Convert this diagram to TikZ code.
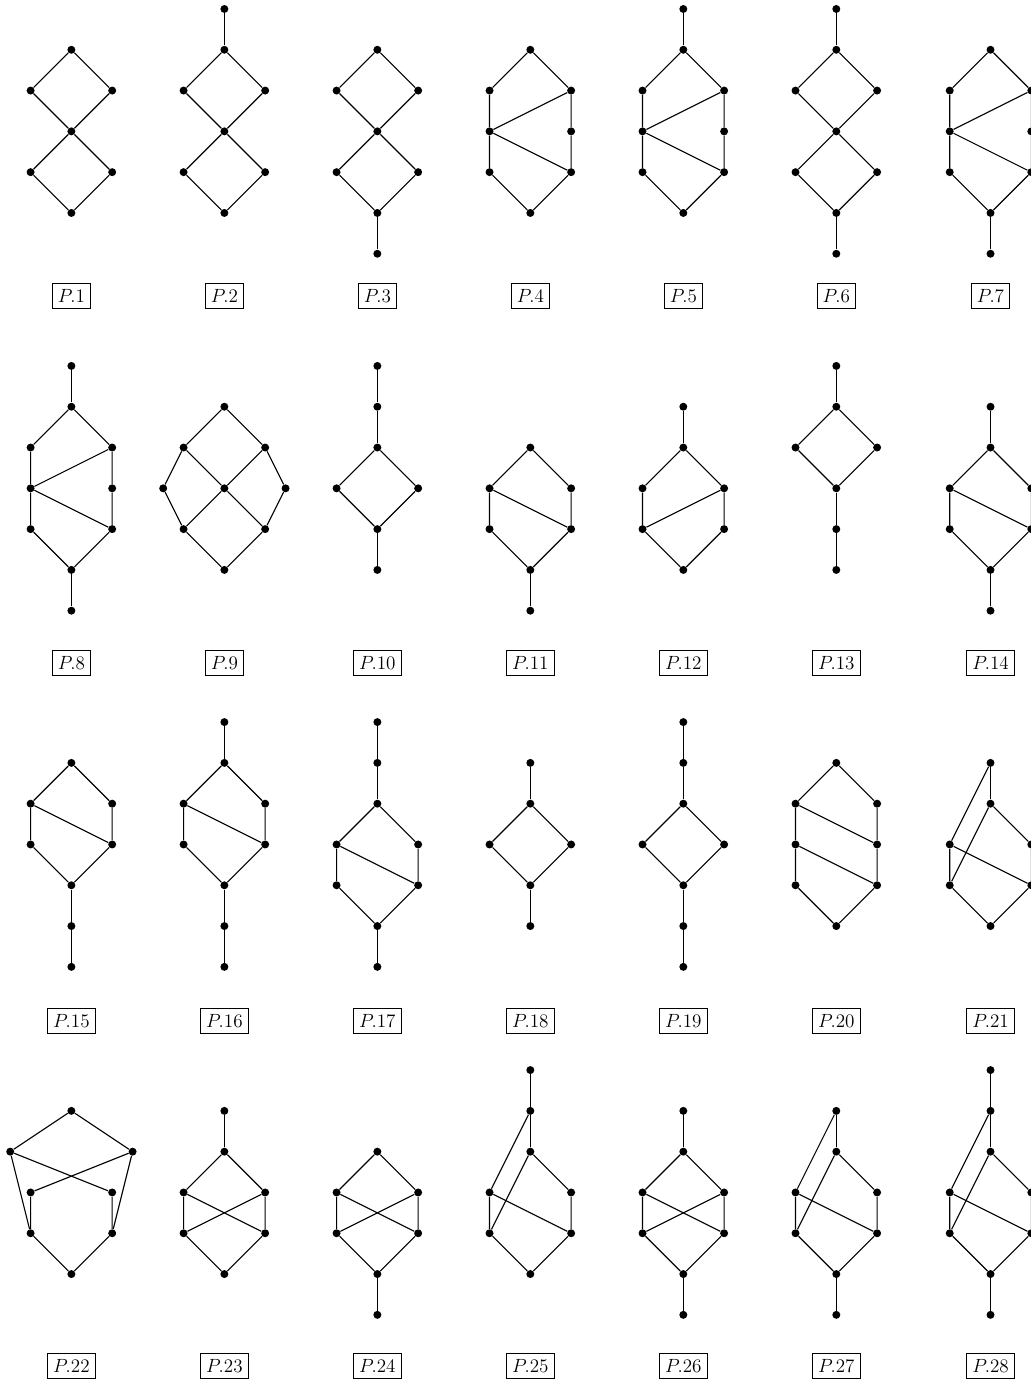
\documentclass[tikz,border=0pt]{standalone}
\usepackage{amsmath}
\usepackage{tikz}
\tikzset{
  dot/.style={circle, fill=black, inner sep=0pt, minimum size=5pt},
  edge/.style={line width=0.7pt, color=black},
  tag/.style={rectangle, draw=black, line width=0.5pt, inner sep=3.6pt, font=\large}
}
\newcommand{\vtx}[2]{\node[dot] (#1) at (#2) {};}

\begin{document}
\begin{tikzpicture}[x=0.9cm, y=0.9cm]
  \useasboundingbox (0,0) rectangle (25.27,-33.95);

  %% ---------- Row 1 ----------
  % P.1
  \begin{scope}[shift={(1.75,-0.22)}, name prefix=p1-]
    \vtx{c1}{0,-1} \vtx{l2}{-1,-2} \vtx{r2}{1,-2} \vtx{c3}{0,-3}
    \vtx{l4}{-1,-4} \vtx{r4}{1,-4} \vtx{c5}{0,-5}
    \draw[edge] (c1) -- (l2) -- (c3) -- (r2) -- (c1);
    \draw[edge] (c3) -- (l4) -- (c5) -- (r4) -- (c3);
    \node[tag] (lab) at (0,-7.03) {$P.1$};
  \end{scope}

  % P.2
  \begin{scope}[shift={(5.5,-0.22)}, name prefix=p2-]
    \vtx{c0}{0,0} \vtx{c1}{0,-1} \vtx{l2}{-1,-2} \vtx{r2}{1,-2} \vtx{c3}{0,-3}
    \vtx{l4}{-1,-4} \vtx{r4}{1,-4} \vtx{c5}{0,-5}
    \draw[edge] (c0) -- (c1);
    \draw[edge] (c1) -- (l2) -- (c3) -- (r2) -- (c1);
    \draw[edge] (c3) -- (l4) -- (c5) -- (r4) -- (c3);
    \node[tag] (lab) at (0,-7.03) {$P.2$};
  \end{scope}

  % P.3
  \begin{scope}[shift={(9.25,-0.22)}, name prefix=p3-]
    \vtx{c1}{0,-1} \vtx{l2}{-1,-2} \vtx{r2}{1,-2} \vtx{c3}{0,-3}
    \vtx{l4}{-1,-4} \vtx{r4}{1,-4} \vtx{c5}{0,-5} \vtx{c6}{0,-6}
    \draw[edge] (c1) -- (l2) -- (c3) -- (r2) -- (c1);
    \draw[edge] (c3) -- (l4) -- (c5) -- (r4) -- (c3);
    \draw[edge] (c5) -- (c6);
    \node[tag] (lab) at (0,-7.03) {$P.3$};
  \end{scope}

  % P.4
  \begin{scope}[shift={(13,-0.22)}, name prefix=p4-]
    \vtx{c1}{0,-1} \vtx{l2}{-1,-2} \vtx{r2}{1,-2} \vtx{l3}{-1,-3} \vtx{r3}{1,-3}
    \vtx{l4}{-1,-4} \vtx{r4}{1,-4} \vtx{c5}{0,-5}
    \draw[edge] (c1) -- (l2) -- (l3) -- (l4) -- (c5) -- (r4) -- (r3) -- (r2) -- (c1);
    \draw[edge] (r2) -- (l3) -- (r4);
    \node[tag] (lab) at (0,-7.03) {$P.4$};
  \end{scope}

  % P.5
  \begin{scope}[shift={(16.75,-0.22)}, name prefix=p5-]
    \vtx{c0}{0,0} \vtx{c1}{0,-1} \vtx{l2}{-1,-2} \vtx{r2}{1,-2} \vtx{l3}{-1,-3} \vtx{r3}{1,-3}
    \vtx{l4}{-1,-4} \vtx{r4}{1,-4} \vtx{c5}{0,-5}
    \draw[edge] (c0) -- (c1);
    \draw[edge] (c1) -- (l2) -- (l3) -- (l4) -- (c5) -- (r4) -- (r3) -- (r2) -- (c1);
    \draw[edge] (r2) -- (l3) -- (r4);
    \node[tag] (lab) at (0,-7.03) {$P.5$};
  \end{scope}

  % P.6
  \begin{scope}[shift={(20.5,-0.22)}, name prefix=p6-]
    \vtx{c0}{0,0} \vtx{c1}{0,-1} \vtx{l2}{-1,-2} \vtx{r2}{1,-2} \vtx{c3}{0,-3}
    \vtx{l4}{-1,-4} \vtx{r4}{1,-4} \vtx{c5}{0,-5} \vtx{c6}{0,-6}
    \draw[edge] (c0) -- (c1);
    \draw[edge] (c1) -- (l2) -- (c3) -- (r2) -- (c1);
    \draw[edge] (c3) -- (l4) -- (c5) -- (r4) -- (c3);
    \draw[edge] (c5) -- (c6);
    \node[tag] (lab) at (0,-7.03) {$P.6$};
  \end{scope}

  % P.7
  \begin{scope}[shift={(24.28,-0.22)}, name prefix=p7-]
    \vtx{c1}{0,-1} \vtx{l2}{-1,-2} \vtx{r2}{1,-2} \vtx{l3}{-1,-3} \vtx{r3}{1,-3}
    \vtx{l4}{-1,-4} \vtx{r4}{1,-4} \vtx{c5}{0,-5} \vtx{c6}{0,-6}
    \draw[edge] (c1) -- (l2) -- (l3) -- (l4) -- (c5) -- (r4) -- (r3) -- (r2) -- (c1);
    \draw[edge] (r2) -- (l3) -- (r4);
    \draw[edge] (c5) -- (c6);
    \node[tag] (lab) at (0,-7.03) {$P.7$};
  \end{scope}

  %% ---------- Row 2 ----------
  % P.8
  \begin{scope}[shift={(1.75,-8.97)}, name prefix=p8-]
    \vtx{c0}{0,0} \vtx{c1}{0,-1} \vtx{l2}{-1,-2} \vtx{r2}{1,-2} \vtx{l3}{-1,-3} \vtx{r3}{1,-3}
    \vtx{l4}{-1,-4} \vtx{r4}{1,-4} \vtx{c5}{0,-5} \vtx{c6}{0,-6}
    \draw[edge] (c0) -- (c1);
    \draw[edge] (c1) -- (l2) -- (l3) -- (l4) -- (c5) -- (r4) -- (r3) -- (r2) -- (c1);
    \draw[edge] (r2) -- (l3) -- (r4);
    \draw[edge] (c5) -- (c6);
    \node[tag] (lab) at (0,-7.28) {$P.8$};
  \end{scope}

  % P.9
  \begin{scope}[shift={(5.5,-8.97)}, name prefix=p9-]
    \vtx{c1}{0,-1} \vtx{l2}{-1,-2} \vtx{r2}{1,-2}
    \vtx{L3}{-1.5,-3} \vtx{c3}{0,-3} \vtx{R3}{1.5,-3}
    \vtx{l4}{-1,-4} \vtx{r4}{1,-4} \vtx{c5}{0,-5}
    \draw[edge] (c1) -- (l2) -- (L3) -- (l4) -- (c5) -- (r4) -- (R3) -- (r2) -- (c1);
    \draw[edge] (l2) -- (c3) -- (r4);
    \draw[edge] (r2) -- (c3) -- (l4);
    \node[tag] (lab) at (0,-7.28) {$P.9$};
  \end{scope}

  % P.10
  \begin{scope}[shift={(9.25,-8.97)}, name prefix=p10-]
    \vtx{c0}{0,0} \vtx{c1}{0,-1} \vtx{c2}{0,-2} \vtx{l3}{-1,-3} \vtx{r3}{1,-3}
    \vtx{c4}{0,-4} \vtx{c5}{0,-5}
    \draw[edge] (c0) -- (c1) -- (c2);
    \draw[edge] (c2) -- (l3) -- (c4) -- (r3) -- (c2);
    \draw[edge] (c4) -- (c5);
    \node[tag] (lab) at (0,-7.28) {$P.10$};
  \end{scope}

  % P.11
  \begin{scope}[shift={(13,-8.97)}, name prefix=p11-]
    \vtx{c2}{0,-2} \vtx{l3}{-1,-3} \vtx{r3}{1,-3} \vtx{l4}{-1,-4} \vtx{r4}{1,-4}
    \vtx{c5}{0,-5} \vtx{c6}{0,-6}
    \draw[edge] (c2) -- (l3) -- (l4) -- (c5) -- (r4) -- (r3) -- (c2);
    \draw[edge] (l3) -- (r4);
    \draw[edge] (c5) -- (c6);
    \node[tag] (lab) at (0,-7.28) {$P.11$};
  \end{scope}

  % P.12
  \begin{scope}[shift={(16.75,-8.97)}, name prefix=p12-]
    \vtx{c1}{0,-1} \vtx{c2}{0,-2} \vtx{l3}{-1,-3} \vtx{r3}{1,-3}
    \vtx{l4}{-1,-4} \vtx{r4}{1,-4} \vtx{c5}{0,-5}
    \draw[edge] (c1) -- (c2);
    \draw[edge] (c2) -- (l3) -- (l4) -- (c5) -- (r4) -- (r3) -- (c2);
    \draw[edge] (l4) -- (r3);
    \node[tag] (lab) at (0,-7.28) {$P.12$};
  \end{scope}

  % P.13
  \begin{scope}[shift={(20.5,-8.97)}, name prefix=p13-]
    \vtx{c0}{0,0} \vtx{c1}{0,-1} \vtx{l2}{-1,-2} \vtx{r2}{1,-2}
    \vtx{c3}{0,-3} \vtx{c4}{0,-4} \vtx{c5}{0,-5}
    \draw[edge] (c0) -- (c1);
    \draw[edge] (c1) -- (l2) -- (c3) -- (r2) -- (c1);
    \draw[edge] (c3) -- (c4) -- (c5);
    \node[tag] (lab) at (0,-7.28) {$P.13$};
  \end{scope}

  % P.14
  \begin{scope}[shift={(24.28,-8.97)}, name prefix=p14-]
    \vtx{c1}{0,-1} \vtx{c2}{0,-2} \vtx{l3}{-1,-3} \vtx{r3}{1,-3}
    \vtx{l4}{-1,-4} \vtx{r4}{1,-4} \vtx{c5}{0,-5} \vtx{c6}{0,-6}
    \draw[edge] (c1) -- (c2);
    \draw[edge] (c2) -- (l3) -- (l4) -- (c5) -- (r4) -- (r3) -- (c2);
    \draw[edge] (l3) -- (r4);
    \draw[edge] (c5) -- (c6);
    \node[tag] (lab) at (0,-7.28) {$P.14$};
  \end{scope}

  %% ---------- Row 3 ----------
  % P.15
  \begin{scope}[shift={(1.75,-17.7)}, name prefix=p15-]
    \vtx{c1}{0,-1} \vtx{l2}{-1,-2} \vtx{r2}{1,-2} \vtx{l3}{-1,-3} \vtx{r3}{1,-3}
    \vtx{c4}{0,-4} \vtx{c5}{0,-5} \vtx{c6}{0,-6}
    \draw[edge] (c1) -- (l2) -- (l3) -- (c4) -- (r3) -- (r2) -- (c1);
    \draw[edge] (l2) -- (r3);
    \draw[edge] (c4) -- (c5) -- (c6);
    \node[tag] (lab) at (0,-7.32) {$P.15$};
  \end{scope}

  % P.16
  \begin{scope}[shift={(5.5,-17.7)}, name prefix=p16-]
    \vtx{c0}{0,0} \vtx{c1}{0,-1} \vtx{l2}{-1,-2} \vtx{r2}{1,-2} \vtx{l3}{-1,-3} \vtx{r3}{1,-3}
    \vtx{c4}{0,-4} \vtx{c5}{0,-5} \vtx{c6}{0,-6}
    \draw[edge] (c0) -- (c1);
    \draw[edge] (c1) -- (l2) -- (l3) -- (c4) -- (r3) -- (r2) -- (c1);
    \draw[edge] (l2) -- (r3);
    \draw[edge] (c4) -- (c5) -- (c6);
    \node[tag] (lab) at (0,-7.32) {$P.16$};
  \end{scope}

  % P.17
  \begin{scope}[shift={(9.25,-17.7)}, name prefix=p17-]
    \vtx{c0}{0,0} \vtx{c1}{0,-1} \vtx{c2}{0,-2} \vtx{l3}{-1,-3} \vtx{r3}{1,-3}
    \vtx{l4}{-1,-4} \vtx{r4}{1,-4} \vtx{c5}{0,-5} \vtx{c6}{0,-6}
    \draw[edge] (c0) -- (c1) -- (c2);
    \draw[edge] (c2) -- (l3) -- (l4) -- (c5) -- (r4) -- (r3) -- (c2);
    \draw[edge] (l3) -- (r4);
    \draw[edge] (c5) -- (c6);
    \node[tag] (lab) at (0,-7.32) {$P.17$};
  \end{scope}

  % P.18
  \begin{scope}[shift={(13,-17.7)}, name prefix=p18-]
    \vtx{c1}{0,-1} \vtx{c2}{0,-2} \vtx{l3}{-1,-3} \vtx{r3}{1,-3}
    \vtx{c4}{0,-4} \vtx{c5}{0,-5}
    \draw[edge] (c1) -- (c2);
    \draw[edge] (c2) -- (l3) -- (c4) -- (r3) -- (c2);
    \draw[edge] (c4) -- (c5);
    \node[tag] (lab) at (0,-7.32) {$P.18$};
  \end{scope}

  % P.19
  \begin{scope}[shift={(16.75,-17.7)}, name prefix=p19-]
    \vtx{c0}{0,0} \vtx{c1}{0,-1} \vtx{c2}{0,-2} \vtx{l3}{-1,-3} \vtx{r3}{1,-3}
    \vtx{c4}{0,-4} \vtx{c5}{0,-5} \vtx{c6}{0,-6}
    \draw[edge] (c0) -- (c1) -- (c2);
    \draw[edge] (c2) -- (l3) -- (c4) -- (r3) -- (c2);
    \draw[edge] (c4) -- (c5) -- (c6);
    \node[tag] (lab) at (0,-7.32) {$P.19$};
  \end{scope}

  % P.20
  \begin{scope}[shift={(20.5,-17.7)}, name prefix=p20-]
    \vtx{c1}{0,-1} \vtx{l2}{-1,-2} \vtx{r2}{1,-2} \vtx{l3}{-1,-3} \vtx{r3}{1,-3}
    \vtx{l4}{-1,-4} \vtx{r4}{1,-4} \vtx{c5}{0,-5}
    \draw[edge] (c1) -- (l2) -- (l3) -- (l4) -- (c5) -- (r4) -- (r3) -- (r2) -- (c1);
    \draw[edge] (l2) -- (r3);
    \draw[edge] (l3) -- (r4);
    \node[tag] (lab) at (0,-7.32) {$P.20$};
  \end{scope}

  % P.21
  \begin{scope}[shift={(24.28,-17.7)}, name prefix=p21-]
    \vtx{c1}{0,-1} \vtx{c2}{0,-2} \vtx{l3}{-1,-3} \vtx{r3}{1,-3}
    \vtx{l4}{-1,-4} \vtx{r4}{1,-4} \vtx{c5}{0,-5}
    \draw[edge] (c1) -- (c2);
    \draw[edge] (c1) -- (l3) -- (l4) -- (c5) -- (r4) -- (r3) -- (c2) -- (l4);
    \draw[edge] (l3) -- (r4);
    \node[tag] (lab) at (0,-7.32) {$P.21$};
  \end{scope}

  %% ---------- Row 4 ----------
  % P.22
  \begin{scope}[shift={(1.75,-26.23)}, name prefix=p22-]
    \vtx{c1}{0,-1} \vtx{L2}{-1.5,-2} \vtx{R2}{1.5,-2}
    \vtx{l3}{-1,-3} \vtx{r3}{1,-3} \vtx{l4}{-1,-4} \vtx{r4}{1,-4} \vtx{c5}{0,-5}
    \draw[edge] (c1) -- (L2) -- (l4) -- (c5) -- (r4) -- (R2) -- (c1);
    \draw[edge] (L2) -- (r3) -- (r4);
    \draw[edge] (R2) -- (l3) -- (l4);
    \node[tag] (lab) at (0,-7.25) {$P.22$};
  \end{scope}

  % P.23
  \begin{scope}[shift={(5.5,-26.23)}, name prefix=p23-]
    \vtx{c1}{0,-1} \vtx{c2}{0,-2} \vtx{l3}{-1,-3} \vtx{r3}{1,-3}
    \vtx{l4}{-1,-4} \vtx{r4}{1,-4} \vtx{c5}{0,-5}
    \draw[edge] (c1) -- (c2);
    \draw[edge] (c2) -- (l3) -- (l4) -- (c5) -- (r4) -- (r3) -- (c2);
    \draw[edge] (l3) -- (r4);
    \draw[edge] (r3) -- (l4);
    \node[tag] (lab) at (0,-7.25) {$P.23$};
  \end{scope}

  % P.24
  \begin{scope}[shift={(9.25,-26.23)}, name prefix=p24-]
    \vtx{c2}{0,-2} \vtx{l3}{-1,-3} \vtx{r3}{1,-3}
    \vtx{l4}{-1,-4} \vtx{r4}{1,-4} \vtx{c5}{0,-5} \vtx{c6}{0,-6}
    \draw[edge] (c2) -- (l3) -- (l4) -- (c5) -- (r4) -- (r3) -- (c2);
    \draw[edge] (l3) -- (r4);
    \draw[edge] (r3) -- (l4);
    \draw[edge] (c5) -- (c6);
    \node[tag] (lab) at (0,-7.25) {$P.24$};
  \end{scope}

  % P.25
  \begin{scope}[shift={(13,-26.23)}, name prefix=p25-]
    \vtx{c0}{0,0} \vtx{c1}{0,-1} \vtx{c2}{0,-2} \vtx{l3}{-1,-3} \vtx{r3}{1,-3}
    \vtx{l4}{-1,-4} \vtx{r4}{1,-4} \vtx{c5}{0,-5}
    \draw[edge] (c0) -- (c1) -- (c2);
    \draw[edge] (c1) -- (l3) -- (l4) -- (c5) -- (r4) -- (r3) -- (c2) -- (l4);
    \draw[edge] (l3) -- (r4);
    \node[tag] (lab) at (0,-7.25) {$P.25$};
  \end{scope}

  % P.26
  \begin{scope}[shift={(16.75,-26.23)}, name prefix=p26-]
    \vtx{c1}{0,-1} \vtx{c2}{0,-2} \vtx{l3}{-1,-3} \vtx{r3}{1,-3}
    \vtx{l4}{-1,-4} \vtx{r4}{1,-4} \vtx{c5}{0,-5} \vtx{c6}{0,-6}
    \draw[edge] (c1) -- (c2);
    \draw[edge] (c2) -- (l3) -- (l4) -- (c5) -- (r4) -- (r3) -- (c2);
    \draw[edge] (l3) -- (r4);
    \draw[edge] (r3) -- (l4);
    \draw[edge] (c5) -- (c6);
    \node[tag] (lab) at (0,-7.25) {$P.26$};
  \end{scope}

  % P.27
  \begin{scope}[shift={(20.5,-26.23)}, name prefix=p27-]
    \vtx{c1}{0,-1} \vtx{c2}{0,-2} \vtx{l3}{-1,-3} \vtx{r3}{1,-3}
    \vtx{l4}{-1,-4} \vtx{r4}{1,-4} \vtx{c5}{0,-5} \vtx{c6}{0,-6}
    \draw[edge] (c1) -- (c2);
    \draw[edge] (c1) -- (l3) -- (l4) -- (c5) -- (r4) -- (r3) -- (c2) -- (l4);
    \draw[edge] (l3) -- (r4);
    \draw[edge] (c5) -- (c6);
    \node[tag] (lab) at (0,-7.25) {$P.27$};
  \end{scope}

  % P.28
  \begin{scope}[shift={(24.28,-26.23)}, name prefix=p28-]
    \vtx{c0}{0,0} \vtx{c1}{0,-1} \vtx{c2}{0,-2} \vtx{l3}{-1,-3} \vtx{r3}{1,-3}
    \vtx{l4}{-1,-4} \vtx{r4}{1,-4} \vtx{c5}{0,-5} \vtx{c6}{0,-6}
    \draw[edge] (c0) -- (c1) -- (c2);
    \draw[edge] (c1) -- (l3) -- (l4) -- (c5) -- (r4) -- (r3) -- (c2) -- (l4);
    \draw[edge] (l3) -- (r4);
    \draw[edge] (c5) -- (c6);
    \node[tag] (lab) at (0,-7.25) {$P.28$};
  \end{scope}
\end{tikzpicture}
\end{document}
